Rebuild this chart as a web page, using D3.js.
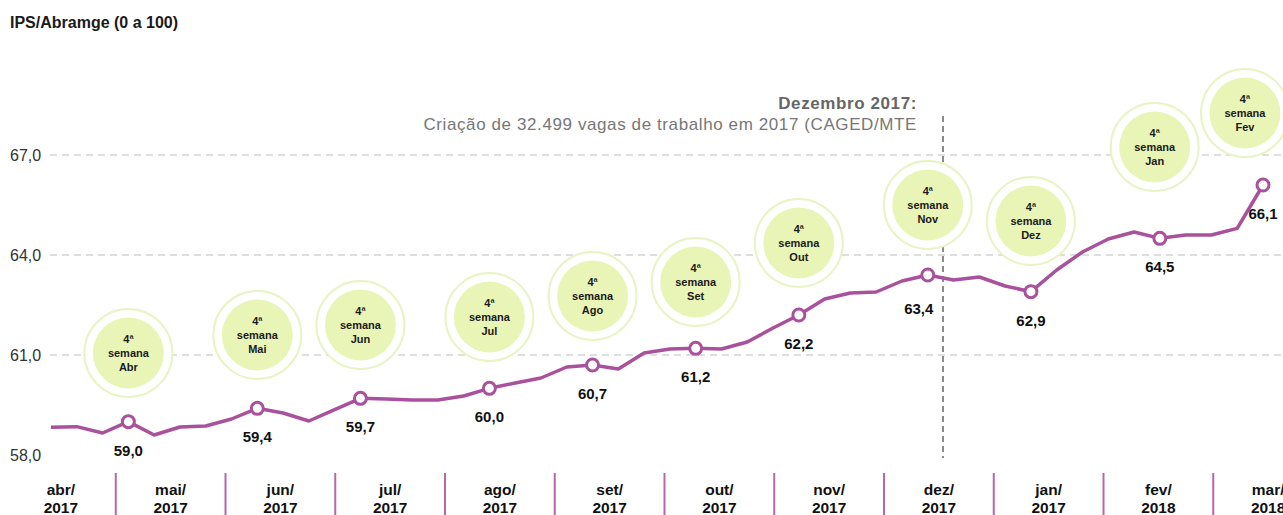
<!DOCTYPE html>
<html>
<head>
<meta charset="utf-8">
<script src="https://cdn.jsdelivr.net/npm/d3@7"></script>
<style>
  body { margin: 0; background: #fff; }
  text { font-family: "Liberation Sans", Arial, sans-serif; }
</style>
</head>
<body>
<div id="container"></div>
<script>
/* DATA */
const weeklyValues = [58.83, 58.85, 58.66, 59.0, 58.6, 58.84, 58.87, 59.08, 59.4, 59.26,
  59.02, 59.36, 59.7, 59.68, 59.65, 59.65, 59.77, 60.0, 60.16, 60.31,
  60.64, 60.7, 60.58, 61.06, 61.18, 61.2, 61.18, 61.39, 61.81, 62.2,
  62.68, 62.86, 62.89, 63.22, 63.4, 63.25, 63.34, 63.07, 62.9, 63.55,
  64.09, 64.48, 64.69, 64.5, 64.6, 64.6, 64.8, 66.1];

const markerWeeks = [3, 8, 12, 17, 21, 25, 29, 34, 38, 43, 47];
const markerLabels = ["59,0", "59,4", "59,7", "60,0", "60,7", "61,2", "62,2", "63,4", "62,9", "64,5", "66,1"];

const bubbleMonths = ["Abr", "Mai", "Jun", "Jul", "Ago", "Set", "Out", "Nov", "Dez", "Jan", "Fev"];
const bubbleWeeks = [3, 8, 12, 17, 21, 25, 29, 34, 38, 42.8, 46.3];
const bubbleLevels = [61.06, 61.6, 61.9, 62.14, 62.77, 63.19, 64.36, 65.5, 65.02, 67.24, 68.26];

const months = ["abr/", "mai/", "jun/", "jul/", "ago/", "set/", "out/", "nov/", "dez/", "jan/", "fev/", "mar/"];
const years = ["2017", "2017", "2017", "2017", "2017", "2017", "2017", "2017", "2017", "2017", "2018", "2018"];

const yTicks = [58, 61, 64, 67];

/* CONSTANTS */
const width = 1283, height = 515;
const purple = "#a9519c";

const svg = d3.select("#container")
  .append("svg")
  .attr("width", width)
  .attr("height", height);

const x = d3.scaleLinear().domain([0, weeklyValues.length - 1]).range([51, 1263]);
const y = d3.scaleLinear().domain([58, 67]).range([455, 155]);
const xMonth = d3.scaleBand().domain(months.map((m, i) => i)).range([6, 6 + 12 * 109.75]).padding(0);

/* TITLE */
svg.append("text")
  .attr("x", 10).attr("y", 28)
  .attr("font-size", 16).attr("font-weight", "bold")
  .attr("fill", "#1a1a1a")
  .text("IPS/Abramge (0 a 100)");

/* GRIDLINES + Y LABELS */
svg.selectAll("line.grid")
  .data(yTicks.filter(d => d > 58))
  .join("line")
  .attr("class", "grid")
  .attr("x1", 50).attr("x2", width)
  .attr("y1", d => y(d)).attr("y2", d => y(d))
  .attr("stroke", "#d3d3d3")
  .attr("stroke-width", 1.5)
  .attr("stroke-dasharray", "7,5");

svg.selectAll("text.ylab")
  .data(yTicks)
  .join("text")
  .attr("class", "ylab")
  .attr("x", 10)
  .attr("y", d => y(d) + 6)
  .attr("font-size", 16)
  .attr("fill", "#333")
  .text(d => d.toFixed(1).replace(".", ","));

/* DEZEMBRO ANNOTATION */
svg.append("line")
  .attr("x1", 943).attr("x2", 943)
  .attr("y1", 116).attr("y2", 458)
  .attr("stroke", "#666")
  .attr("stroke-width", 1.5)
  .attr("stroke-dasharray", "6,4");

svg.append("text")
  .attr("x", 917).attr("y", 109)
  .attr("text-anchor", "end")
  .attr("font-size", 17).attr("font-weight", "bold")
  .attr("letter-spacing", 0.6)
  .attr("fill", "#666")
  .text("Dezembro 2017:");

svg.append("text")
  .attr("x", 917).attr("y", 130)
  .attr("text-anchor", "end")
  .attr("font-size", 17)
  .attr("letter-spacing", 0.6)
  .attr("fill", "#777")
  .text("Criação de 32.499 vagas de trabalho em 2017 (CAGED/MTE");

/* BUBBLES */
const bubbles = svg.selectAll("g.bubble")
  .data(bubbleMonths.map((m, i) => ({ month: m, week: bubbleWeeks[i], level: bubbleLevels[i] })))
  .join("g")
  .attr("class", "bubble")
  .attr("transform", d => `translate(${x(d.week)}, ${y(d.level)})`);

bubbles.append("circle")
  .attr("r", 44)
  .attr("fill", "#fff")
  .attr("stroke", "#e9f3c3")
  .attr("stroke-width", 2);

bubbles.append("circle")
  .attr("r", 35.5)
  .attr("fill", "#e9f5b6");

bubbles.selectAll("text")
  .data(d => ["4ª", "semana", d.month])
  .join("text")
  .attr("text-anchor", "middle")
  .attr("y", (d, i) => (i - 1) * 14 + 4)
  .attr("font-size", 11).attr("font-weight", "bold")
  .attr("fill", "#1a1a1a")
  .text(d => d);

/* LINE */
const line = d3.line()
  .x((d, i) => x(i))
  .y(d => y(d));

svg.append("path")
  .datum(weeklyValues)
  .attr("d", line)
  .attr("fill", "none")
  .attr("stroke", purple)
  .attr("stroke-width", 3.5)
  .attr("stroke-linejoin", "round");

svg.selectAll("circle.point")
  .data(markerWeeks)
  .join("circle")
  .attr("class", "point")
  .attr("cx", d => x(d))
  .attr("cy", d => y(weeklyValues[d]))
  .attr("r", 6)
  .attr("fill", "#fff")
  .attr("stroke", purple)
  .attr("stroke-width", 3);

svg.selectAll("text.vlab")
  .data(markerWeeks)
  .join("text")
  .attr("class", "vlab")
  .attr("x", (d, i) => x(d) + (markerLabels[i] === "63,4" ? -9 : 0))
  .attr("y", (d, i) => y(weeklyValues[d]) + (markerLabels[i] === "63,4" ? 39 : 34))
  .attr("text-anchor", "middle")
  .attr("font-size", 15).attr("font-weight", "bold")
  .attr("fill", "#111")
  .text((d, i) => markerLabels[i]);

/* X AXIS (months) */
svg.selectAll("line.sep")
  .data(months.slice(1).map((m, i) => i + 1))
  .join("line")
  .attr("class", "sep")
  .attr("x1", d => xMonth(d)).attr("x2", d => xMonth(d))
  .attr("y1", 473).attr("y2", height)
  .attr("stroke", "#b767ab")
  .attr("stroke-width", 2);

const monthLabels = svg.selectAll("text.xlab")
  .data(months.map((m, i) => i))
  .join("text")
  .attr("class", "xlab")
  .attr("text-anchor", "middle")
  .attr("font-size", 15.5).attr("font-weight", "bold")
  .attr("fill", "#111");

monthLabels.append("tspan")
  .attr("x", d => xMonth(d) + xMonth.bandwidth() / 2)
  .attr("y", 495)
  .text(d => months[d]);

monthLabels.append("tspan")
  .attr("x", d => xMonth(d) + xMonth.bandwidth() / 2)
  .attr("y", 513)
  .text(d => years[d]);
</script>
</body>
</html>
